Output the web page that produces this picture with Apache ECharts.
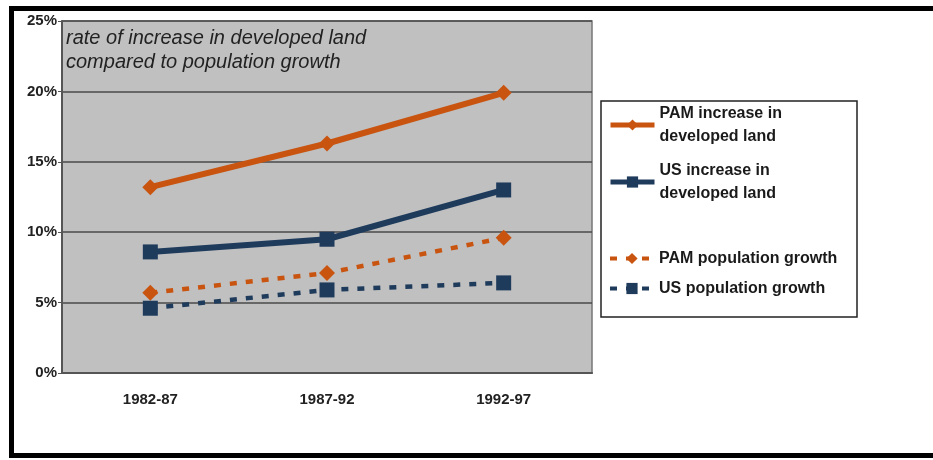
<!DOCTYPE html>
<html>
<head>
<meta charset="utf-8">
<script src="https://cdn.jsdelivr.net/npm/echarts@6/dist/echarts.min.js"></script>
<style>
  html, body { margin: 0; padding: 0; background: #fff; }
  #chart { width: 933px; height: 460px; }
</style>
</head>
<body>
<div id="chart"></div>
<script>
// periods on the x axis
var periods = ['1982-87', '1987-92', '1992-97'];

// percent values
var pamLand = [13.2, 16.3, 19.9];
var usLand = [8.6, 9.5, 13.0];
var pamPop = [5.7, 7.1, 9.6];
var usPop = [4.6, 5.9, 6.4];

var orange = '#c85410';
var navy = '#1f3b5c';
var font = 'Liberation Sans, Arial, sans-serif';

var chart = echarts.init(document.getElementById('chart'));

function lineSeries(name, data, color, symbol, dashed) {
  return {
    name: name,
    type: 'line',
    data: data,
    symbol: symbol,
    symbolSize: symbol === 'diamond' ? 16 : 15,
    showSymbol: true,
    itemStyle: { color: color },
    lineStyle: {
      color: color,
      width: dashed ? 4.5 : 6,
      type: dashed ? [7, 9] : 'solid'
    },
    animation: false
  };
}

var legendText = {
  color: '#1a1a1a',
  fontFamily: font,
  fontWeight: 'bold',
  fontSize: 16,
  lineHeight: 23
};

var option = {
  backgroundColor: '#fff',
  grid: {
    left: 62,
    right: 341,
    top: 21,
    bottom: 87,
    show: true,
    backgroundColor: '#c0c0c0',
    borderColor: '#777',
    borderWidth: 1.5
  },
  xAxis: {
    type: 'category',
    data: periods,
    boundaryGap: true,
    axisLine: { lineStyle: { color: '#555', width: 2 } },
    axisTick: { show: false },
    axisLabel: {
      color: '#222',
      fontFamily: font,
      fontWeight: 'bold',
      fontSize: 15,
      margin: 19
    }
  },
  yAxis: {
    type: 'value',
    min: 0,
    max: 25,
    interval: 5,
    axisLine: { show: true, lineStyle: { color: '#555', width: 2 } },
    axisTick: { show: true, length: 4, lineStyle: { color: '#555' } },
    axisLabel: {
      formatter: '{value}%',
      color: '#222',
      fontFamily: font,
      fontWeight: 'bold',
      fontSize: 15,
      margin: 5
    },
    splitLine: { lineStyle: { color: '#4a4a4a', width: 1.5 } }
  },
  legend: [
    {
      orient: 'vertical',
      left: 608,
      top: 102,
      padding: 0,
      itemWidth: 44,
      itemHeight: 14,
      itemGap: 11,
      lineStyle: { width: 5 },
      textStyle: legendText,
      formatter: function (name) {
        return name.replace(' in ', ' in\n');
      },
      data: ['PAM increase in developed land', 'US increase in developed land']
    },
    {
      orient: 'vertical',
      left: 608,
      top: 247,
      padding: 0,
      itemWidth: 44,
      itemHeight: 14,
      itemGap: 7,
      lineStyle: { width: 4 },
      textStyle: legendText,
      data: ['PAM population growth', 'US population growth']
    }
  ],
  graphic: [
    {
      type: 'rect',
      shape: { x: 601, y: 101, width: 256, height: 216 },
      style: { fill: 'none', stroke: '#222', lineWidth: 1.5 },
      silent: true,
      z: 0
    },
    {
      type: 'rect',
      shape: { x: 11.5, y: 8.5, width: 940, height: 447 },
      style: { fill: 'none', stroke: '#000', lineWidth: 5 },
      silent: true,
      z: 10
    },
    {
      type: 'text',
      left: 66,
      top: 26,
      style: {
        text: 'rate of increase in developed land\ncompared to population growth',
        fill: '#222',
        font: 'italic 20px ' + font,
        lineHeight: 24
      },
      z: 5
    }
  ],
  series: [
    lineSeries('PAM increase in developed land', pamLand, orange, 'diamond', false),
    lineSeries('US increase in developed land', usLand, navy, 'rect', false),
    lineSeries('PAM population growth', pamPop, orange, 'diamond', true),
    lineSeries('US population growth', usPop, navy, 'rect', true)
  ]
};

chart.setOption(option);
</script>
</body>
</html>
